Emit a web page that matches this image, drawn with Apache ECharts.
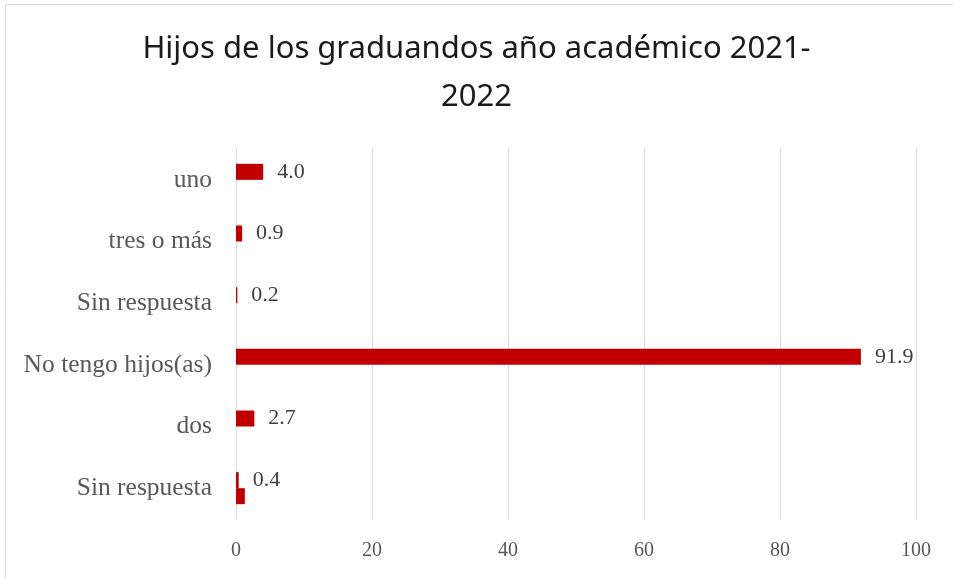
<!DOCTYPE html>
<html>
<head>
<meta charset="utf-8">
<script src="https://cdn.jsdelivr.net/npm/echarts@6/dist/echarts.min.js"></script>
<style>
  html, body { margin: 0; padding: 0; background: #fff; }
  #chart { width: 953px; height: 578px; }
</style>
</head>
<body>
<div id="chart"></div>
<script>
// categorías (de abajo hacia arriba, como las dibuja el eje)
const categories = ['Sin respuesta', 'dos', 'No tengo hijos(as)', 'Sin respuesta', 'tres o más', 'uno'];
// porcentajes
const values = [0.4, 2.7, 91.9, 0.2, 0.9, 4.0];
// segunda serie casi vacía (sólo aparece en la última fila)
const extraValues = [1.3, null, null, null, null, null];
const xTicks = [0, 20, 40, 60, 80, 100];

const serif = '"Liberation Serif", "DejaVu Serif", serif';

var chartDom = document.getElementById('chart');
var myChart = echarts.init(chartDom);
var option = {
  animation: false,
  title: {
    text: 'Hijos de los graduandos año académico 2021-\n2022',
    left: 'center',
    top: 20,
    textStyle: {
      fontFamily: '"Noto Sans", "Open Sans", sans-serif',
      fontWeight: 'normal',
      fontSize: 31,
      lineHeight: 48,
      color: '#1a1a1a'
    }
  },
  graphic: [
    {
      type: 'rect',
      shape: { x: 5.5, y: 4.5, width: 1200, height: 1200 },
      style: { fill: 'none', stroke: '#d9d9d9', lineWidth: 1 },
      silent: true
    }
  ],
  grid: {
    left: 236,
    right: 37,
    top: 149,
    bottom: 59
  },
  xAxis: {
    type: 'value',
    min: xTicks[0],
    max: xTicks[xTicks.length - 1],
    interval: 20,
    axisLine: { show: false },
    axisTick: { show: false },
    splitLine: { lineStyle: { color: '#d9d9d9', width: 1 } },
    axisLabel: {
      margin: 22,
      color: '#595959',
      fontFamily: serif,
      fontSize: 20
    }
  },
  yAxis: {
    type: 'category',
    data: categories,
    axisLine: { show: true, lineStyle: { color: '#d9d9d9', width: 1 } },
    axisTick: { show: false },
    axisLabel: {
      margin: 24,
      color: '#595959',
      fontFamily: serif,
      fontSize: 25.5
    }
  },
  series: [
    {
      name: 'Hijos',
      type: 'bar',
      data: values,
      barWidth: 16,
      barGap: '0%',
      itemStyle: { color: '#c00000' },
      label: {
        show: true,
        position: 'right',
        distance: 14,
        formatter: function (p) { return p.value.toFixed(1); },
        color: '#404040',
        fontFamily: serif,
        fontSize: 22
      }
    },
    {
      name: 'extra',
      type: 'bar',
      data: extraValues,
      barWidth: 16,
      barGap: '0%',
      itemStyle: { color: '#c00000' },
      label: { show: false }
    }
  ]
};
option && myChart.setOption(option);
</script>
</body>
</html>
